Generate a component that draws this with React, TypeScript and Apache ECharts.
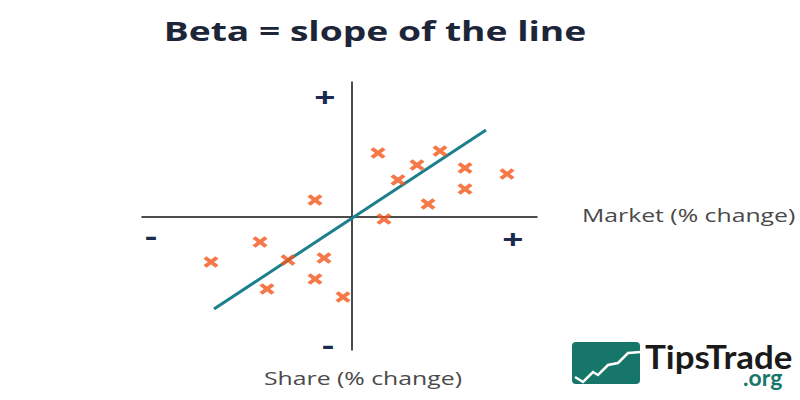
import React, { useEffect, useRef } from "react";
import * as echarts from "echarts";

// Scatter points: [market % change, share % change]
const marketChange = [2.6, 8.8, 6.5, 11.3, 15.5, 4.6, 11.3, 7.6, -3.7, 3.2, -9.2, -14.1, -6.4, -2.8, -3.7, -8.5, -0.9];
const shareChange = [6.4, 6.6, 5.2, 4.9, 4.3, 3.7, 2.8, 1.3, 1.7, -0.2, -2.5, -4.5, -4.3, -4.1, -6.2, -7.2, -8.0];
// Regression line end points
const lineX = [-13.8, 13.4];
const lineY = [-9.2, 8.7];

const TITLE = "Beta = slope of the line";
const X_NAME = "Market (% change)";
const Y_NAME = "Share (% change)";

const ORANGE = "#f4561a";
const TEAL = "#1c7f8c";
const NAVY = "#1b2a4e";
const LOGO = "#17766a";
const SX = 1.43;
const LABEL_SX = 1.34;

export default function App() {
  const ref = useRef<HTMLDivElement>(null);
  useEffect(() => {
    if (!ref.current) return;
    const chart = echarts.init(ref.current, null, { renderer: "svg" });
    const points = marketChange.map((x, i) => [x, shareChange[i]]);
    const line = lineX.map((x, i) => [x, lineY[i]]);
    const sign = (text: string, x: number, y: number) => ({
      type: "text",
      x,
      y,
      scaleX: SX,
      style: {
        text,
        x: 0,
        y: 0,
        align: "center",
        verticalAlign: "middle",
        fill: NAVY,
        fontFamily: "Open Sans",
        fontWeight: "bold",
        fontSize: 26,
        lineHeight: 26,
      },
    });
    const axisName = (text: string, x: number, y: number) => ({
      type: "text",
      x,
      y,
      scaleX: LABEL_SX,
      style: {
        text,
        x: 0,
        y: 0,
        verticalAlign: "middle",
        fill: "#4a4a4a",
        fontFamily: "Open Sans",
        fontSize: 18.5,
      },
    });
    chart.setOption({
      animation: false,
      backgroundColor: "#ffffff",
      grid: { left: 142, top: 82, width: 395, height: 268, containLabel: false },
      xAxis: {
        type: "value",
        min: -21,
        max: 18.5,
        axisLine: { show: true, onZero: true, lineStyle: { color: "#111", width: 1.5 } },
        axisTick: { show: false },
        axisLabel: { show: false },
        splitLine: { show: false },
      },
      yAxis: {
        type: "value",
        min: -13.3,
        max: 13.5,
        axisLine: { show: true, onZero: true, lineStyle: { color: "#111", width: 1.5 } },
        axisTick: { show: false },
        axisLabel: { show: false },
        splitLine: { show: false },
      },
      series: [
        {
          type: "line",
          data: line,
          symbol: "none",
          lineStyle: { color: TEAL, width: 3 },
          z: 3,
        },
        {
          type: "scatter",
          data: points,
          symbol: "path://M0,0L10,8M10,0L0,8",
          symbolSize: [12, 9],
          itemStyle: { color: "none", borderColor: ORANGE, borderWidth: 3.8 },
          z: 4,
        },
      ],
      graphic: [
        {
          type: "text",
          x: 375,
          y: 31,
          scaleX: SX,
          style: {
            text: TITLE,
            x: 0,
            y: 0,
            align: "center",
            verticalAlign: "middle",
            fill: "#1c2638",
            fontFamily: "Open Sans",
            fontWeight: "bold",
            fontSize: 26,
          },
        },
        sign("+", 325, 97),
        sign("+", 513, 239),
        sign("-", 151, 236),
        sign("-", 328, 345),
        axisName(X_NAME, 582, 215),
        axisName(Y_NAME, 264, 378),
        {
          type: "rect",
          shape: { x: 572, y: 342, width: 68, height: 42, r: 4 },
          style: { fill: LOGO },
        },
        {
          type: "polyline",
          shape: {
            points: [
              [575, 377],
              [583, 382],
              [593, 372],
              [598, 375],
              [608, 365],
              [618, 363],
              [628, 353],
              [641, 352],
            ],
          },
          style: { stroke: "#ffffff", lineWidth: 2.5, fill: "none" },
        },
        {
          type: "text",
          x: 645,
          y: 357,
          scaleX: 1.09,
          style: {
            text: "TipsTrade",
            x: 0,
            y: 0,
            verticalAlign: "middle",
            fill: "#1a1a1a",
            fontFamily: "Lato",
            fontWeight: "bold",
            fontSize: 32,
            lineHeight: 26,
          },
        },
        {
          type: "text",
          x: 743,
          y: 377,
          style: {
            text: ".org",
            x: 0,
            y: 0,
            verticalAlign: "middle",
            fill: LOGO,
            fontFamily: "Lato",
            fontWeight: "bold",
            fontSize: 23,
            lineHeight: 16,
          },
        },
      ],
    });
    return () => chart.dispose();
  }, []);
  return (
    <div
      ref={ref}
      style={{ position: "fixed", left: 0, top: 0, width: 800, height: 400, background: "#fff" }}
    />
  );
}
